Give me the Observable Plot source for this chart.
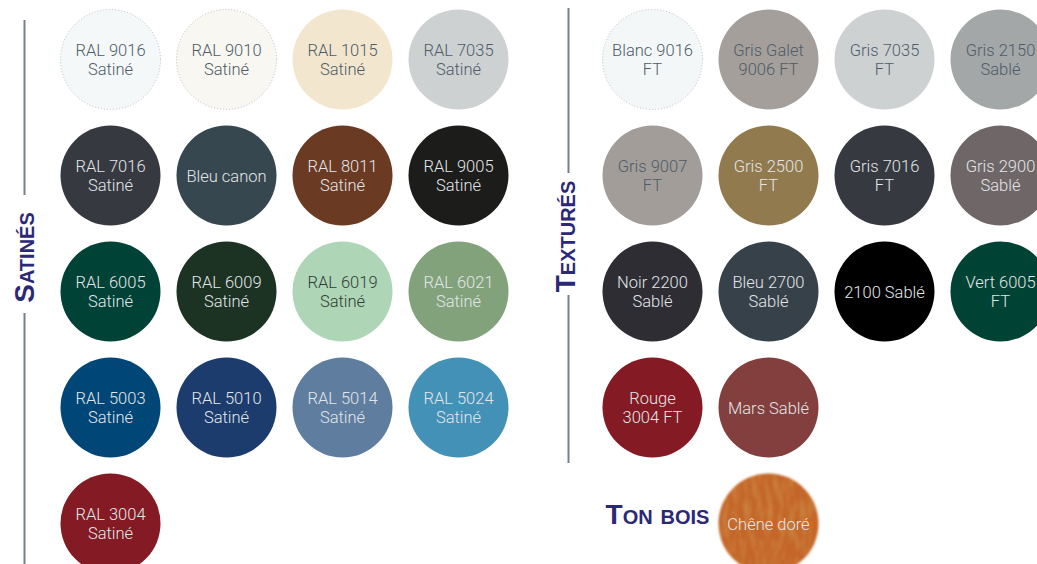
<!DOCTYPE html>
<html>
<head>
<meta charset="utf-8">
<script src="https://cdn.jsdelivr.net/npm/d3@7"></script>
<script src="https://cdn.jsdelivr.net/npm/@observablehq/plot@0.6"></script>
<style>
  html, body { margin: 0; padding: 0; background: #ffffff; }
  #chart svg { display: block; }
</style>
</head>
<body>
<div id="chart"></div>
<script>
// ---- Data ----
const satineNames = [
  "RAL 9016\nSatiné", "RAL 9010\nSatiné", "RAL 1015\nSatiné", "RAL 7035\nSatiné",
  "RAL 7016\nSatiné", "Bleu canon", "RAL 8011\nSatiné", "RAL 9005\nSatiné",
  "RAL 6005\nSatiné", "RAL 6009\nSatiné", "RAL 6019\nSatiné", "RAL 6021\nSatiné",
  "RAL 5003\nSatiné", "RAL 5010\nSatiné", "RAL 5014\nSatiné", "RAL 5024\nSatiné",
  "RAL 3004\nSatiné"
];
const satineColors = [
  "#f5f8f9", "#f8f7f1", "#f3e6ce", "#cdd1d2",
  "#363a40", "#37474f", "#6b3a22", "#1c1c1a",
  "#004236", "#1c3324", "#aed6b6", "#82a27b",
  "#004676", "#1c3c6e", "#5f7d9e", "#4391b6",
  "#841a24"
];
const textureNames = [
  "Blanc 9016\nFT", "Gris Galet\n9006 FT", "Gris 7035\nFT", "Gris 2150\nSablé",
  "Gris 9007\nFT", "Gris 2500\nFT", "Gris 7016\nFT", "Gris 2900\nSablé",
  "Noir 2200\nSablé", "Bleu 2700\nSablé", "2100 Sablé", "Vert 6005\nFT",
  "Rouge\n3004 FT", "Mars Sablé"
];
const textureColors = [
  "#f4f7f8", "#a59f9c", "#cdd1d2", "#a4a7a7",
  "#a39d9a", "#917a4d", "#363a40", "#6f6667",
  "#2d2d33", "#37414a", "#000000", "#004234",
  "#841a24", "#833f3e"
];
const tonBoisNames = ["Chêne doré"];
const tonBoisColors = ["#c4662c"];
const sectionTitles = ["Satinés", "Texturés", "Ton bois"];

// ---- Layout (grid units: one cell = 116px) ----
const CELL = 116, X0 = 110, Y0 = 59, COLS = 4;
const ux = px => (px - X0) / CELL;
const uy = px => (px - Y0) / CELL;
const RIGHT_OFFSET = ux(652);

function grid(names, colors, group, offset, startIndex = 0) {
  return names.map((name, i) => {
    const k = i + startIndex;
    return { group, name, fill: colors[i], col: (k % COLS) + offset, row: Math.floor(k / COLS) };
  });
}
const swatches = [
  ...grid(satineNames, satineColors, "Satinés", 0),
  ...grid(textureNames, textureColors, "Texturés", RIGHT_OFFSET),
  ...grid(tonBoisNames, tonBoisColors, "Ton bois", RIGHT_OFFSET, 17)
];
const isLight = c => {
  const h = d3.hcl(c);
  return h.l > 70 || (h.l > 58 && (isNaN(h.c) || h.c < 12));
};
const lightBg = swatches.filter(d => isLight(d.fill));
const darkBg = swatches.filter(d => !isLight(d.fill));
const darkInk = d => d3.hcl(d.fill).c > 20 ? "#2f3d37" : "#4d5c67";

const titles = [
  { text: sectionTitles[0], x: ux(25), y: uy(257), rotate: -90 },
  { text: sectionTitles[1], x: ux(566), y: uy(236), rotate: -90 },
  { text: sectionTitles[2], x: ux(657), y: uy(515), rotate: 0 }
];
const rules = [
  { x: ux(24), y1: uy(20), y2: uy(195) },
  { x: ux(24), y1: uy(313), y2: uy(570) },
  { x: ux(568), y1: uy(8), y2: uy(173) },
  { x: ux(568), y1: uy(295), y2: uy(463) }
];

const W = 1037, H = 564;
const labelFont = "Roboto, 'Open Sans', sans-serif";
const chart = Plot.plot({
  width: W, height: H,
  margin: 0,
  x: { domain: [ux(0), ux(W)], axis: null },
  y: { domain: [uy(0), uy(H)], range: [0, H], axis: null },
  color: { type: "identity" },
  marks: [
    Plot.ruleX(rules, { x: "x", y1: "y1", y2: "y2", stroke: "#74808a", strokeWidth: 2 }),
    Plot.dot(swatches, { x: "col", y: "row", r: 50, fill: "fill", stroke: "none" }),
    Plot.dot(swatches.filter(d => d3.lab(d.fill).l > 95), {
      x: "col", y: "row", r: 50, fill: "none", stroke: "#b9bcbe", strokeWidth: 1, strokeDasharray: "1 2"
    }),
    Plot.text(lightBg, {
      x: "col", y: "row", text: "name", fill: darkInk,
      fontSize: 16.5, lineHeight: 1.15, fontWeight: 300,
      fontFamily: labelFont
    }),
    Plot.text(darkBg, {
      x: "col", y: "row", text: "name", fill: "#e2e6e9",
      fontSize: 16.5, lineHeight: 1.15, fontWeight: 300,
      fontFamily: labelFont
    }),
    Plot.text(titles.filter(d => d.rotate !== 0), {
      x: "x", y: "y", text: "text", rotate: -90,
      fill: "#2b2878", fontSize: 28, fontWeight: "bold", fontVariant: "small-caps",
      fontFamily: "'Liberation Sans', Arial, sans-serif"
    }),
    Plot.text(titles.filter(d => d.rotate === 0), {
      x: "x", y: "y", text: "text",
      fill: "#2b2878", fontSize: 28, fontWeight: "bold", fontVariant: "small-caps",
      fontFamily: "'Liberation Sans', Arial, sans-serif"
    })
  ]
});

// wood texture for the "Ton bois" swatch
const svg = d3.select(chart);
const defs = svg.insert("defs", ":first-child");
const f = defs.append("filter").attr("id", "wood")
  .attr("x", "-5%").attr("y", "-5%").attr("width", "110%").attr("height", "110%");
f.append("feTurbulence").attr("type", "fractalNoise").attr("baseFrequency", "0.18 0.05")
  .attr("numOctaves", 3).attr("seed", 7).attr("result", "noise");
f.append("feColorMatrix").attr("in", "noise").attr("type", "matrix")
  .attr("values", "0 0 0 0 0.62  0 0 0 0 0.27  0 0 0 0 0.06  1.4 0 0 0 -0.55").attr("result", "streaks");
f.append("feComposite").attr("in", "streaks").attr("in2", "SourceAlpha").attr("operator", "in").attr("result", "clipped");
const m = f.append("feMerge").attr("result", "merged");
m.append("feMergeNode").attr("in", "SourceGraphic");
m.append("feMergeNode").attr("in", "clipped");
f.append("feGaussianBlur").attr("in", "merged").attr("stdDeviation", 0.8);
svg.selectAll("circle").filter(function () {
  return (this.getAttribute("fill") || "").toLowerCase() === tonBoisColors[0];
}).attr("filter", "url(#wood)");

document.getElementById("chart").appendChild(chart);
</script>
</body>
</html>
